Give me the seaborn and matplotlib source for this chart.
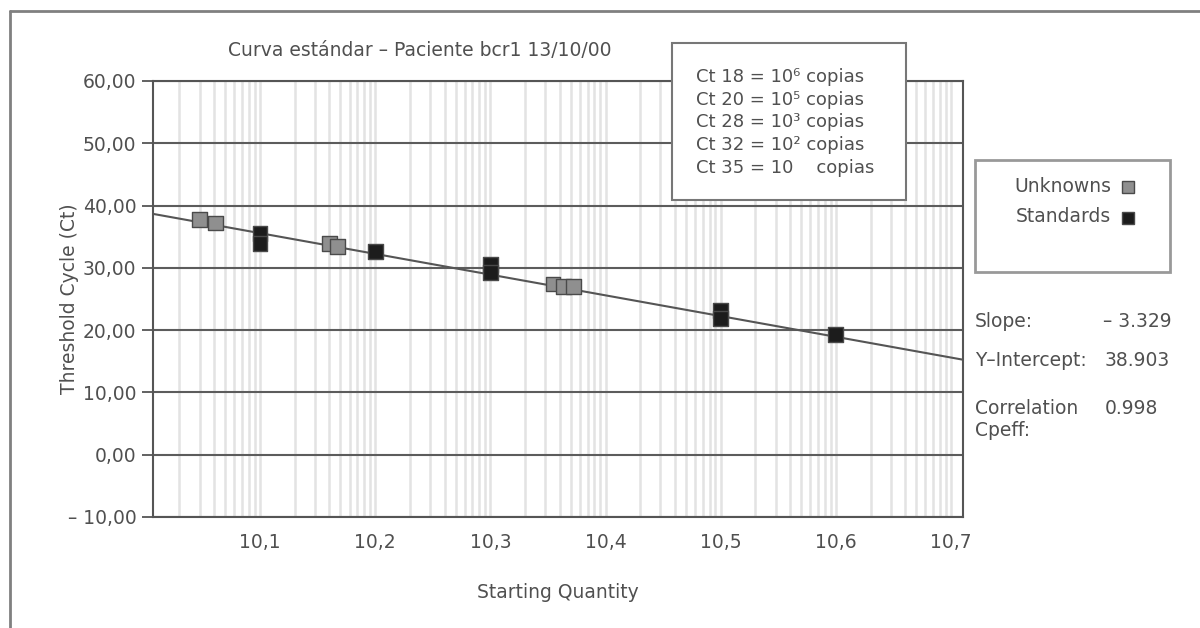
import math
import matplotlib
matplotlib.use('Agg')
import matplotlib.pyplot as plt
from matplotlib.lines import Line2D
from matplotlib.patches import Rectangle
from matplotlib.ticker import LogLocator, NullFormatter, FixedLocator, FixedFormatter
import seaborn as sns
import pandas as pd

sns.set_style('white')
plt.rcParams['font.family'] = ['DejaVu Sans']

# values
std_qty = [10, 10, 100, 1000, 1000, 1e5, 1e5, 1e6]
std_ct = [35.5, 33.9, 32.6, 30.5, 29.2, 23.1, 21.8, 19.3]
unk_qty = [3.0, 4.1, 40, 47, 3500, 4300, 5300]
unk_ct = [37.7, 37.2, 33.9, 33.4, 27.4, 27.0, 27.0]

slope = -3.329
intercept = 38.903
corr = 0.998

xtick_pos = [10, 100, 1000, 1e4, 1e5, 1e6, 1e7]
xtick_labels = ['10,1', '10,2', '10,3', '10,4', '10,5', '10,6', '10,7']
yticks = [-10, 0, 10, 20, 30, 40, 50, 60]
ytick_labels = ['– 10,00', '0,00', '10,00', '20,00', '30,00', '40,00', '50,00', '60,00']
copies_lines = ['Ct 18 = 10⁶ copias', 'Ct 20 = 10⁵ copias', 'Ct 28 = 10³ copias',
                'Ct 32 = 10² copias', 'Ct 35 = 10    copias']

df = pd.DataFrame({
    'qty': unk_qty + std_qty,
    'ct': unk_ct + std_ct,
    'kind': ['Unknowns'] * len(unk_qty) + ['Standards'] * len(std_qty),
})

x_lo, x_hi = 10 ** 0.071, 10 ** 7.104
fit = pd.DataFrame({'qty': [x_lo, x_hi]})
fit['ct'] = [intercept + slope * math.log10(v) for v in fit['qty']]

TXT = '#505050'
FS = 13.5

fig = plt.figure(figsize=(12, 6.28), dpi=100)
ax = fig.add_axes([153 / 1200, 1 - 517 / 628, (963 - 153) / 1200, (517 - 81) / 628])

sns.lineplot(data=fit, x='qty', y='ct', color='#555555', lw=1.5, ax=ax, zorder=3)
sns.scatterplot(data=df, x='qty', y='ct', hue='kind', marker='s', s=115,
                palette={'Unknowns': '#8f8f8f', 'Standards': '#1c1c1c'},
                edgecolor='#4a4a4a', linewidth=1, ax=ax, zorder=4, legend=False)

ax.set_xscale('log')
ax.set_xlim(x_lo, x_hi)
ax.set_ylim(-10, 60)
ax.xaxis.set_major_locator(FixedLocator(xtick_pos))
ax.xaxis.set_major_formatter(FixedFormatter(xtick_labels))
ax.xaxis.set_minor_locator(LogLocator(base=10, subs=range(2, 10), numticks=20))
ax.xaxis.set_minor_formatter(NullFormatter())
ax.set_yticks(yticks)
ax.set_yticklabels(ytick_labels)

ax.grid(True, which='both', axis='x', color='#e3e3e3', lw=1.8, zorder=0)
ax.grid(True, which='major', axis='y', color='#5c5c5c', lw=1.5, zorder=1)
ax.set_axisbelow(True)
ax.tick_params(axis='x', which='both', direction='out', length=11.5, width=1.8,
               color='#e3e3e3', pad=0, labelsize=FS, labelcolor=TXT)
ax.tick_params(axis='y', direction='out', length=8, width=1.3, color='#555555',
               pad=4, labelsize=FS, labelcolor=TXT, left=True)
for s in ax.spines.values():
    s.set_color('#555555')
    s.set_linewidth(1.5)

ax.set_xlabel('Starting Quantity', fontsize=FS, color=TXT, labelpad=22)
ax.set_ylabel('Threshold Cycle (Ct)', fontsize=FS, color=TXT, labelpad=-8)

fig.text(420 / 1200, 1 - 50 / 628, 'Curva estándar – Paciente bcr1 13/10/00',
         ha='center', va='center', fontsize=FS, color=TXT)

# copies box
fig.add_artist(Rectangle((672 / 1200, 1 - 200 / 628), (906 - 672) / 1200, (200 - 43) / 628,
                         transform=fig.transFigure, facecolor='white', edgecolor='#777777',
                         lw=1.5, zorder=5))
for i, t in enumerate(copies_lines):
    fig.text(696 / 1200, 1 - (77 + i * 22.7) / 628, t, ha='left', va='center',
             fontsize=13, color=TXT, zorder=6)

# legend box
fig.add_artist(Rectangle((975 / 1200, 1 - 272 / 628), (1170 - 975) / 1200, (272 - 160) / 628,
                         transform=fig.transFigure, facecolor='white', edgecolor='#999999',
                         lw=2, zorder=5))
for lab, col, yy in [('Unknowns', '#8f8f8f', 186), ('Standards', '#1c1c1c', 217)]:
    fig.text(1111 / 1200, 1 - yy / 628, lab, ha='right', va='center', fontsize=FS,
             color=TXT, zorder=6)
    fig.add_artist(Line2D([1128 / 1200], [1 - (yy + 1) / 628], marker='s', ms=8,
                          color=col, mec='#4a4a4a', mew=1, transform=fig.transFigure,
                          zorder=6))

# stats
kw = dict(fontsize=FS, color=TXT, va='center')
fig.text(975 / 1200, 1 - 321 / 628, 'Slope:', ha='left', **kw)
fig.text(1172 / 1200, 1 - 321 / 628, f'– {abs(slope):.3f}', ha='right', **kw)
fig.text(975 / 1200, 1 - 361 / 628, 'Y–Intercept:', ha='left', **kw)
fig.text(1105 / 1200, 1 - 361 / 628, f'{intercept:.3f}', ha='left', **kw)
fig.text(975 / 1200, 1 - 408 / 628, 'Correlation', ha='left', **kw)
fig.text(1105 / 1200, 1 - 408 / 628, f'{corr:.3f}', ha='left', **kw)
fig.text(975 / 1200, 1 - 431 / 628, 'Cpeff:', ha='left', **kw)

# outer frame (top and left edges)
fig.add_artist(Line2D([10 / 1200, 1], [1 - 11 / 628, 1 - 11 / 628], color='#808080', lw=2,
                      transform=fig.transFigure))
fig.add_artist(Line2D([10 / 1200, 10 / 1200], [0, 1 - 11 / 628], color='#808080', lw=2,
                      transform=fig.transFigure))

fig.savefig('out.png', dpi=100)
